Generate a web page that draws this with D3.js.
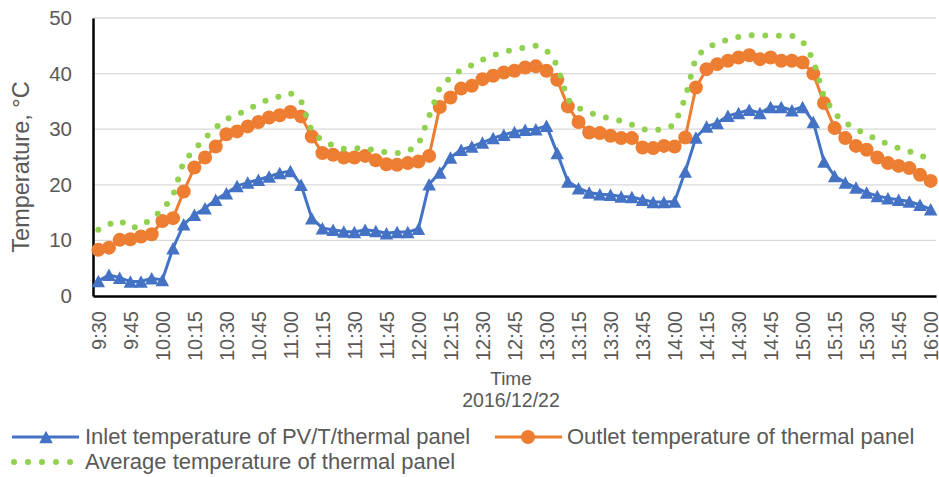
<!DOCTYPE html>
<html>
<head>
<meta charset="utf-8">
<script src="https://cdn.jsdelivr.net/npm/d3@7"></script>
<style>
  body { margin: 0; background: #fff; }
  svg { display: block; font-family: "Liberation Sans", Arial, sans-serif; }
</style>
</head>
<body>
<div id="chart"></div>
<script>
// Time of day, one reading every 5 minutes (2016/12/22)
var times = [
  "9:30","9:35","9:40","9:45","9:50","9:55","10:00","10:05","10:10","10:15","10:20","10:25",
  "10:30","10:35","10:40","10:45","10:50","10:55","11:00","11:05","11:10","11:15","11:20","11:25",
  "11:30","11:35","11:40","11:45","11:50","11:55","12:00","12:05","12:10","12:15","12:20","12:25",
  "12:30","12:35","12:40","12:45","12:50","12:55","13:00","13:05","13:10","13:15","13:20","13:25",
  "13:30","13:35","13:40","13:45","13:50","13:55","14:00","14:05","14:10","14:15","14:20","14:25",
  "14:30","14:35","14:40","14:45","14:50","14:55","15:00","15:05","15:10","15:15","15:20","15:25",
  "15:30","15:35","15:40","15:45","15:50","15:55","16:00"
];

// Inlet temperature of PV/T/thermal panel
var inletTemp = [
  2.7, 3.8, 3.3, 2.6, 2.6, 3.2, 2.9, 8.6, 12.9, 14.6, 15.8, 17.3,
  18.5, 19.8, 20.4, 20.9, 21.5, 22.1, 22.5, 20.0, 14.0, 12.2, 11.9, 11.6,
  11.5, 11.9, 11.7, 11.3, 11.5, 11.5, 12.1, 20.1, 22.2, 24.9, 26.3, 26.9,
  27.6, 28.4, 29.0, 29.5, 29.9, 30.0, 30.6, 25.7, 20.6, 19.4, 18.6, 18.3,
  18.2, 17.9, 17.8, 17.3, 16.9, 16.9, 17.0, 22.4, 28.5, 30.5, 31.1, 32.4,
  32.9, 33.5, 32.9, 34.0, 34.0, 33.4, 34.0, 31.3, 24.2, 21.6, 20.4, 19.5,
  18.6, 18.0, 17.6, 17.3, 17.0, 16.4, 15.6
];

// Outlet temperature of thermal panel
var outletTemp = [
  8.3, 8.7, 10.1, 10.2, 10.7, 11.1, 13.5, 14.0, 18.8, 23.1, 24.9, 26.9,
  29.1, 29.6, 30.5, 31.3, 32.1, 32.5, 33.1, 32.3, 28.7, 25.7, 25.4, 24.9,
  24.9, 25.2, 24.4, 23.7, 23.6, 23.9, 24.2, 25.2, 34.0, 35.7, 37.3, 37.8,
  39.0, 39.6, 40.2, 40.5, 41.1, 41.3, 40.5, 38.9, 34.1, 31.3, 29.4, 29.3,
  28.8, 28.4, 28.4, 26.7, 26.6, 27.0, 26.9, 28.5, 37.5, 40.8, 41.7, 42.3,
  42.9, 43.3, 42.6, 42.9, 42.3, 42.3, 42.0, 40.0, 34.7, 30.2, 28.4, 27.0,
  26.3, 24.9, 23.9, 23.4, 23.0, 21.8, 20.7
];

// Average temperature of thermal panel
var averageTemp = [
  11.9, 12.9, 13.6, 12.3, 12.5, 14.0, 15.4, 18.0, 24.2, 26.3, 28.4, 30.3,
  31.8, 32.6, 33.6, 34.5, 35.4, 35.9, 36.5, 35.1, 29.6, 27.9, 27.1, 26.5,
  26.6, 26.5, 26.2, 25.8, 25.7, 26.0, 27.2, 32.3, 37.5, 39.3, 40.7, 41.5,
  42.5, 43.3, 43.9, 44.3, 44.7, 45.0, 44.2, 41.5, 35.3, 33.8, 33.0, 32.4,
  31.9, 31.5, 30.8, 30.0, 29.8, 30.0, 30.8, 35.6, 43.0, 44.6, 45.5, 46.1,
  46.6, 46.9, 46.9, 46.8, 46.8, 46.8, 45.8, 42.5, 35.8, 32.8, 31.2, 30.0,
  29.1, 28.1, 27.3, 26.6, 26.0, 25.3, 24.6
];

var yTicks = [0, 10, 20, 30, 40, 50];
var xTickLabels = times.filter(function(t, i) { return i % 3 === 0; });

var seriesNames = [
  "Inlet temperature of PV/T/thermal panel",
  "Outlet temperature of thermal panel",
  "Average temperature of thermal panel"
];

// SVG size
var width = 939;
var height = 477;
var plotLeft = 93, plotRight = 936, plotTop = 18, plotBottom = 296;

var blue = "#4472C4", orange = "#ED7D31", green = "#92D050", textColor = "#595959";

var svg = d3.select("#chart")
  .append("svg")
  .attr("width", width)
  .attr("height", height);

// Scales
var xScale = d3.scalePoint()
  .domain(times)
  .range([plotLeft, plotRight])
  .padding(0.5);

var yScale = d3.scaleLinear()
  .domain([0, 50])
  .range([plotBottom, plotTop]);

// Gridlines
svg.append("g")
  .selectAll("line")
  .data(yTicks.filter(function(d) { return d > 0; }))
  .enter()
  .append("line")
  .attr("x1", plotLeft)
  .attr("x2", plotRight)
  .attr("y1", d => yScale(d))
  .attr("y2", d => yScale(d))
  .attr("stroke", "#d9d9d9")
  .attr("stroke-width", 1.3);

// Y axis
var yAxis = svg.append("g")
  .attr("transform", "translate(" + plotLeft + ",0)")
  .call(d3.axisLeft(yScale).tickValues(yTicks).tickSize(0).tickPadding(21));
yAxis.select(".domain").attr("stroke", "#000").attr("stroke-width", 2.5);
yAxis.selectAll("text")
  .attr("fill", textColor)
  .style("font-size", "20.5px")
  .style("font-family", "'Liberation Sans', Arial, sans-serif");

// X axis
var xAxis = svg.append("g")
  .attr("transform", "translate(0," + plotBottom + ")")
  .call(d3.axisBottom(xScale).tickValues(xTickLabels).tickSize(0));
xAxis.select(".domain").attr("stroke", "#000").attr("stroke-width", 2.5);
xAxis.selectAll("text")
  .attr("fill", textColor)
  .style("font-size", "20px")
  .style("font-family", "'Liberation Sans', Arial, sans-serif")
  .attr("text-anchor", "end")
  .attr("transform", "rotate(-90)")
  .attr("x", -15)
  .attr("y", 0)
  .attr("dy", "0.35em");

// Axis titles
svg.append("text")
  .attr("transform", "rotate(-90)")
  .attr("x", -167)
  .attr("y", 29)
  .attr("text-anchor", "middle")
  .attr("fill", textColor)
  .style("font-size", "23.5px")
  .text("Temperature, °C");

svg.append("text")
  .attr("x", 511)
  .attr("y", 385)
  .attr("text-anchor", "middle")
  .attr("fill", textColor)
  .style("font-size", "19px")
  .text("Time");

svg.append("text")
  .attr("x", 511)
  .attr("y", 407)
  .attr("text-anchor", "middle")
  .attr("fill", textColor)
  .style("font-size", "19.5px")
  .text("2016/12/22");

// Line generator
var line = d3.line()
  .x((d, i) => xScale(times[i]))
  .y(d => yScale(d));

function trianglePath(w, h) {
  return "M0," + (-h / 2) + "L" + (w / 2) + "," + (h / 2) + "L" + (-w / 2) + "," + (h / 2) + "Z";
}

// Inlet series
svg.append("path")
  .datum(inletTemp)
  .attr("d", line)
  .attr("fill", "none")
  .attr("stroke", blue)
  .attr("stroke-width", 3)
  .attr("stroke-linejoin", "round");

svg.append("g")
  .selectAll("path")
  .data(inletTemp)
  .enter()
  .append("path")
  .attr("d", trianglePath(13.5, 12.5))
  .attr("transform", (d, i) => "translate(" + xScale(times[i]) + "," + yScale(d) + ")")
  .attr("fill", blue);

// Outlet series
svg.append("path")
  .datum(outletTemp)
  .attr("d", line)
  .attr("fill", "none")
  .attr("stroke", orange)
  .attr("stroke-width", 3)
  .attr("stroke-linejoin", "round");

svg.append("g")
  .selectAll("circle")
  .data(outletTemp)
  .enter()
  .append("circle")
  .attr("cx", (d, i) => xScale(times[i]))
  .attr("cy", d => yScale(d))
  .attr("r", 7)
  .attr("fill", orange);

// Average series, round dotted line
svg.append("path")
  .datum(averageTemp)
  .attr("d", line)
  .attr("fill", "none")
  .attr("stroke", green)
  .attr("stroke-width", 6)
  .attr("stroke-linecap", "round")
  .attr("stroke-dasharray", "0 13.6");

// Legend
var legend = svg.append("g").style("font-size", "22px");

legend.append("line")
  .attr("x1", 12).attr("x2", 79).attr("y1", 437).attr("y2", 437)
  .attr("stroke", blue).attr("stroke-width", 3);
legend.append("path")
  .attr("d", trianglePath(13.5, 12.5))
  .attr("transform", "translate(46,437)")
  .attr("fill", blue);
legend.append("text")
  .attr("x", 85).attr("y", 444)
  .attr("fill", textColor)
  .text(seriesNames[0]);

legend.append("line")
  .attr("x1", 495).attr("x2", 562).attr("y1", 437).attr("y2", 437)
  .attr("stroke", orange).attr("stroke-width", 3);
legend.append("circle")
  .attr("cx", 528).attr("cy", 437).attr("r", 7)
  .attr("fill", orange);
legend.append("text")
  .attr("x", 567).attr("y", 444)
  .attr("fill", textColor)
  .text(seriesNames[1]);

legend.append("line")
  .attr("x1", 14).attr("x2", 72).attr("y1", 462).attr("y2", 462)
  .attr("stroke", green).attr("stroke-width", 6)
  .attr("stroke-linecap", "round")
  .attr("stroke-dasharray", "0 14");
legend.append("text")
  .attr("x", 85).attr("y", 469)
  .attr("fill", textColor)
  .text(seriesNames[2]);
</script>
</body>
</html>
